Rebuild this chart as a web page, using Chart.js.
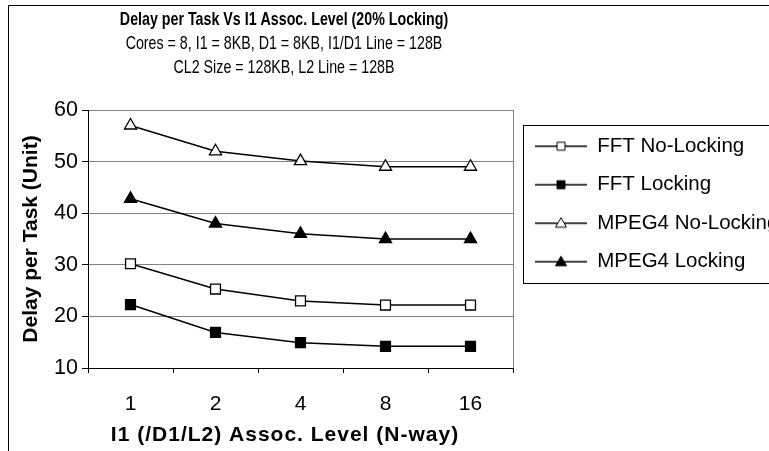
<!DOCTYPE html>
<html>
<head>
<meta charset="utf-8">
<script src="https://cdn.jsdelivr.net/npm/chart.js@4.4.1/dist/chart.umd.min.js"></script>
<style>
    html, body { margin: 0; padding: 0; background: #fff; overflow: hidden; }
    #wrap { width: 769px; height: 451px; position: relative; }
</style>
</head>
<body>
<div id="wrap"><canvas id="delayChart"></canvas></div>
<script>
const assocLevels = ['1', '2', '4', '8', '16'];
const fftNoLocking = [30.2, 25.3, 23.0, 22.2, 22.2];
const fftLocking = [22.3, 16.9, 14.9, 14.2, 14.2];
const mpegNoLocking = [57, 52, 50.1, 49, 49];
const mpegLocking = [42.8, 38, 36, 35, 35];
const yTicks = [10, 20, 30, 40, 50, 60];

const chartTitle = 'Delay per Task Vs I1 Assoc. Level (20% Locking)';
const subTitles = ['Cores = 8, I1 = 8KB, D1 = 8KB, I1/D1 Line = 128B', 'CL2 Size = 128KB, L2 Line = 128B'];
const xTitle = 'I1 (/D1/L2) Assoc. Level (N-way)';
const yTitle = 'Delay per Task (Unit)';

const FONT = "'Liberation Sans', Arial, sans-serif";

// small line + marker picture used as legend symbol
function legendIcon(style, filled) {
    const c = document.createElement('canvas');
    c.width = 60;
    c.height = 20;
    const ctx = c.getContext('2d');
    ctx.strokeStyle = '#000';
    ctx.lineWidth = 1.5;
    ctx.beginPath();
    ctx.moveTo(6, 10);
    ctx.lineTo(58, 10);
    ctx.stroke();
    ctx.fillStyle = filled ? '#000' : '#fff';
    ctx.lineWidth = 1;
    ctx.beginPath();
    if (style === 'rect') {
        ctx.rect(28, 6, 8, 8);
    } else {
        ctx.moveTo(32, 4.5);
        ctx.lineTo(37.5, 14);
        ctx.lineTo(26.5, 14);
        ctx.closePath();
    }
    ctx.fill();
    ctx.stroke();
    return c;
}

function series(label, data, style, filled) {
    return {
        label: label,
        data: data,
        borderColor: '#000',
        borderWidth: 1.5,
        pointStyle: style,
        pointRadius: 7,
        pointBorderWidth: 1.3,
        pointBackgroundColor: filled ? '#000' : '#fff',
        pointBorderColor: '#000',
        tension: 0,
        fill: false,
        _icon: legendIcon(style, filled)
    };
}

const decorPlugin = {
    id: 'decor',
    beforeDraw(chart) {
        const ctx = chart.ctx;
        ctx.save();
        ctx.strokeStyle = '#000';
        ctx.lineWidth = 1;
        ctx.beginPath();
        ctx.moveTo(8.5, 460);
        ctx.lineTo(8.5, 5.5);
        ctx.lineTo(800, 5.5);
        ctx.stroke();
        ctx.restore();
    },
    beforeDatasetsDraw(chart) {
        const { ctx, chartArea } = chart;
        ctx.save();
        ctx.strokeStyle = '#808080';
        ctx.lineWidth = 1;
        ctx.beginPath();
        ctx.moveTo(Math.round(chartArea.right) + 0.5, chartArea.top);
        ctx.lineTo(Math.round(chartArea.right) + 0.5, chartArea.bottom);
        ctx.stroke();
        ctx.restore();
    },
    afterDraw(chart) {
        const ctx = chart.ctx;
        const cx = 284;
        ctx.save();
        ctx.fillStyle = '#000';
        ctx.textAlign = 'center';
        ctx.textBaseline = 'middle';

        // titles look condensed in the original
        ctx.save();
        ctx.translate(cx, 20);
        ctx.scale(0.77, 1);
        ctx.font = 'bold 18.5px ' + FONT;
        ctx.fillText(chartTitle, 0, 0);
        ctx.restore();
        subTitles.forEach((t, i) => {
            ctx.save();
            ctx.translate(cx, 44 + i * 24);
            ctx.scale(0.77, 1);
            ctx.font = '18.5px ' + FONT;
            ctx.fillText(t, 0, 0);
            ctx.restore();
        });

        ctx.font = 'bold 21px ' + FONT;
        ctx.letterSpacing = '1px';
        ctx.fillText(xTitle, 285, 435);
        ctx.letterSpacing = '0px';

        // legend frame
        const lg = chart.legend;
        const boxes = lg.legendHitBoxes;
        const top = Math.round(boxes[0].top - 11) + 0.5;
        const bottom = Math.round(boxes[boxes.length - 1].top + boxes[boxes.length - 1].height + 11) + 0.5;
        ctx.strokeStyle = '#000';
        ctx.lineWidth = 1;
        ctx.strokeRect(Math.round(lg.left + 10) + 0.5, top, 400, bottom - top);
        ctx.restore();
    }
};

const ctx = document.getElementById('delayChart').getContext('2d');

new Chart(ctx, {
    type: 'line',
    data: {
        labels: assocLevels,
        datasets: [
            series('FFT No-Locking', fftNoLocking, 'rect', false),
            series('FFT Locking', fftLocking, 'rect', true),
            series('MPEG4 No-Locking', mpegNoLocking, 'triangle', false),
            series('MPEG4 Locking', mpegLocking, 'triangle', true)
        ]
    },
    options: {
        responsive: true,
        maintainAspectRatio: false,
        animation: false,
        layout: {
            padding: { left: 12, top: 110, right: 0, bottom: 0 }
        },
        plugins: {
            title: { display: false },
            tooltip: { enabled: false },
            legend: {
                position: 'right',
                align: 'start',
                maxWidth: 256,
                title: {
                    display: true,
                    text: '',
                    font: { size: 5, lineHeight: 1 },
                    padding: { top: 3, bottom: 0 }
                },
                labels: {
                    color: '#000',
                    font: { family: FONT, size: 20.5 },
                    padding: 18,
                    usePointStyle: true,
                    pointStyleWidth: 56,
                    generateLabels: function (chart) {
                        return chart.data.datasets.map((ds, i) => ({
                            text: ds.label,
                            pointStyle: ds._icon,
                            fontColor: '#000',
                            lineWidth: 0,
                            strokeStyle: '#000',
                            fillStyle: '#000',
                            hidden: false,
                            datasetIndex: i
                        }));
                    }
                }
            }
        },
        scales: {
            x: {
                offset: true,
                afterFit: scale => { scale.height = 83; },
                grid: {
                    offset: true,
                    drawOnChartArea: false,
                    drawTicks: true,
                    tickLength: 5,
                    tickColor: '#000'
                },
                border: { color: '#000', width: 1 },
                ticks: {
                    color: '#000',
                    padding: 19,
                    font: { family: FONT, size: 21 }
                }
            },
            y: {
                min: yTicks[0],
                max: yTicks[yTicks.length - 1],
                afterFit: scale => { scale.width = 76; },
                afterBuildTicks: scale => { scale.ticks = yTicks.map(v => ({ value: v })); },
                grid: {
                    color: '#808080',
                    lineWidth: 1,
                    drawTicks: true,
                    tickLength: 6,
                    tickColor: '#000'
                },
                border: { color: '#000', width: 1 },
                ticks: {
                    color: '#000',
                    padding: 4,
                    font: { family: FONT, size: 21.5 }
                },
                title: {
                    display: true,
                    text: yTitle,
                    color: '#000',
                    font: { family: FONT, size: 21, weight: 'bold' },
                    padding: { top: 7, bottom: 0 }
                }
            }
        }
    },
    plugins: [decorPlugin]
});
</script>
</body>
</html>
